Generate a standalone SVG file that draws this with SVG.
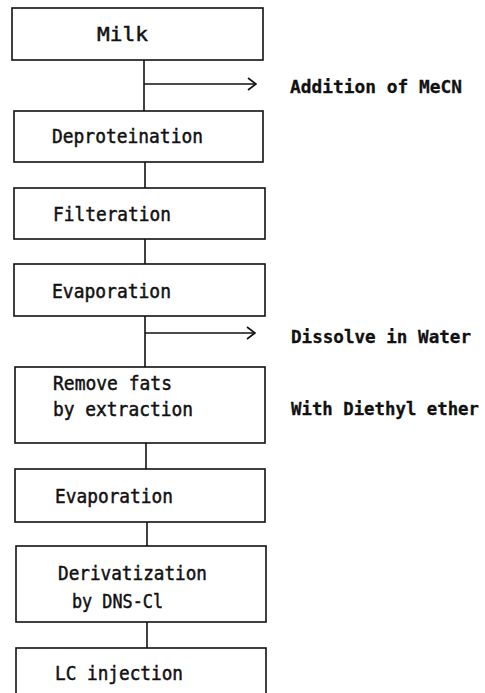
<svg xmlns="http://www.w3.org/2000/svg" width="485" height="693" viewBox="0 0 485 693">
<defs>
<style>
.box{fill:#fff;stroke:#111;stroke-width:1.6}
.t{font-family:"DejaVu Sans Mono","Liberation Mono",monospace;font-size:20px;fill:#111;stroke:#111;stroke-width:0.5}
.r{font-family:"DejaVu Sans Mono","Liberation Mono",monospace;font-size:17.5px;font-weight:bold;fill:#111;stroke:#111;stroke-width:0.3}
.c{stroke:#111;stroke-width:1.6;fill:none}
</style>
<marker id="chev" viewBox="0 0 10 14" refX="9" refY="7" markerWidth="10" markerHeight="14" markerUnits="userSpaceOnUse" orient="auto">
<path d="M1,1 L9,7 L1,13" fill="none" stroke="#111" stroke-width="1.6"/>
</marker>
</defs>
<rect width="485" height="693" fill="#fff"/>
<g id="connectors">
<line class="c" x1="144" y1="60" x2="144" y2="111"/>
<line class="c" x1="144" y1="84" x2="256" y2="84" marker-end="url(#chev)"/>
<line class="c" x1="145" y1="162" x2="145" y2="188"/>
<line class="c" x1="145" y1="239" x2="145" y2="264"/>
<line class="c" x1="145" y1="316" x2="145" y2="367"/>
<line class="c" x1="145" y1="333" x2="255" y2="333" marker-end="url(#chev)"/>
<line class="c" x1="146" y1="443" x2="146" y2="469"/>
<line class="c" x1="147" y1="522" x2="147" y2="546"/>
<line class="c" x1="147" y1="622" x2="147" y2="648"/>
</g>
<g id="milk"><rect class="box" x="12" y="8" width="251" height="52"/><text class="t" x="97" y="41" textLength="51" lengthAdjust="spacingAndGlyphs">Milk</text></g>
<g id="deproteination"><rect class="box" x="14" y="111" width="249" height="51"/><text class="t" x="52" y="143" textLength="151" lengthAdjust="spacingAndGlyphs">Deproteination</text></g>
<g id="filteration"><rect class="box" x="14" y="188" width="251" height="51"/><text class="t" x="53" y="221" textLength="118" lengthAdjust="spacingAndGlyphs">Filteration</text></g>
<g id="evaporation1"><rect class="box" x="14" y="264" width="251" height="52"/><text class="t" x="52" y="298" textLength="119" lengthAdjust="spacingAndGlyphs">Evaporation</text></g>
<g id="remove"><rect class="box" x="15" y="367" width="250" height="76"/><text class="t" x="53" y="390" textLength="119" lengthAdjust="spacingAndGlyphs">Remove fats</text><text class="t" x="53" y="416" textLength="140" lengthAdjust="spacingAndGlyphs">by extraction</text></g>
<g id="evaporation2"><rect class="box" x="15" y="469" width="250" height="53"/><text class="t" x="55" y="503" textLength="118" lengthAdjust="spacingAndGlyphs">Evaporation</text></g>
<g id="derivatization"><rect class="box" x="16" y="546" width="250" height="76"/><text class="t" x="58" y="580" textLength="149" lengthAdjust="spacingAndGlyphs">Derivatization</text><text class="t" x="72" y="608" textLength="91" lengthAdjust="spacingAndGlyphs">by DNS-Cl</text></g>
<g id="lc"><rect class="box" x="16" y="648" width="250" height="60"/><text class="t" x="55" y="680" textLength="128" lengthAdjust="spacingAndGlyphs">LC injection</text></g>
<g id="labels">
<text class="r" x="290" y="93" textLength="172" lengthAdjust="spacingAndGlyphs">Addition of MeCN</text>
<text class="r" x="291" y="343" textLength="180" lengthAdjust="spacingAndGlyphs">Dissolve in Water</text>
<text class="r" x="291" y="415" textLength="188" lengthAdjust="spacingAndGlyphs">With Diethyl ether</text>
</g>
</svg>
